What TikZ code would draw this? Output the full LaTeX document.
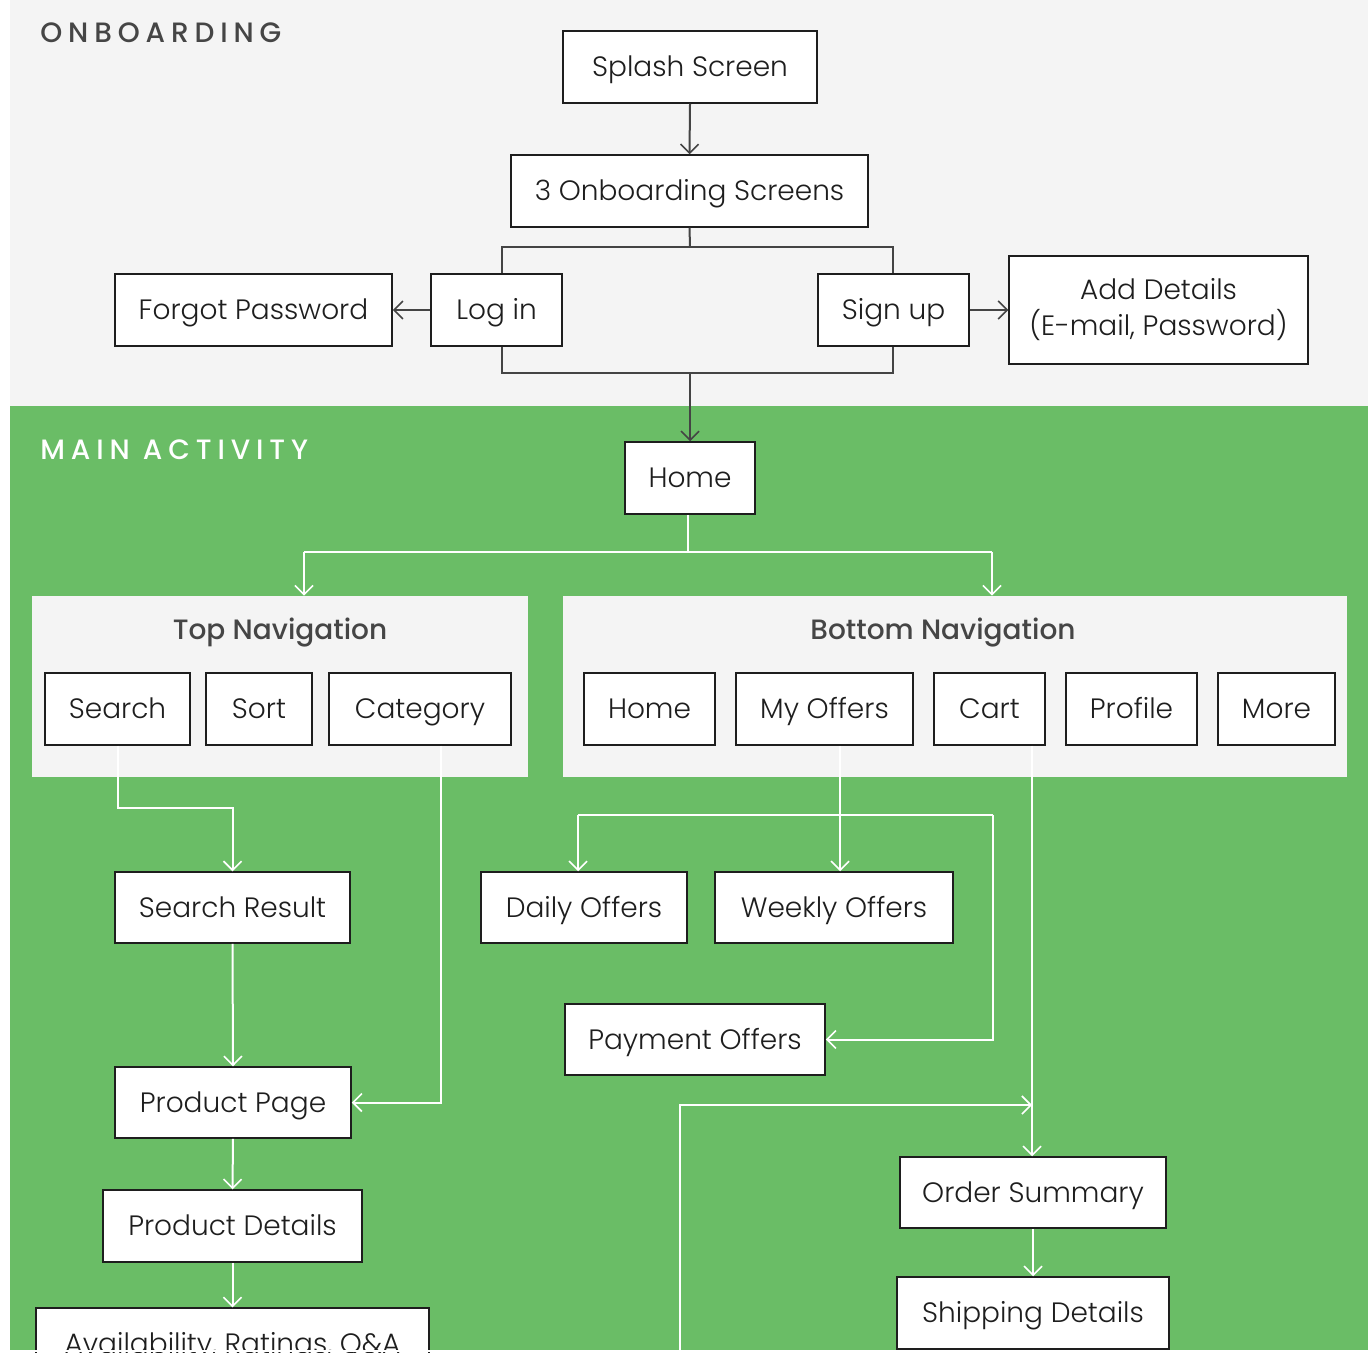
\documentclass[tikz,border=0pt]{standalone}
\usepackage{fontspec}
\setmainfont{Poppins}[UprightFont=* Light, BoldFont=* Medium]
\newfontfamily\titlefont{Poppins}[UprightFont=* Medium, LetterSpace=21]
\newfontfamily\panelfont{Poppins}[UprightFont=* Medium]
\usetikzlibrary{arrows.meta,calc}
\definecolor{obg}{HTML}{F4F4F4}
\definecolor{gbg}{HTML}{6ABD66}
\definecolor{dline}{HTML}{444444}
\definecolor{txt}{HTML}{1E1E1E}
\definecolor{ptxt}{HTML}{454545}
\tikzset{
  box/.style={draw=txt, line width=0.75pt, fill=white, text=txt, inner sep=0pt, align=center, text height=9.8pt, text depth=0pt, font=\fontsize{14}{17}\selectfont},
  panel/.style={fill=obg, draw=none, inner sep=0pt},
  darr/.style={draw=dline, line width=1pt, -{Straight Barb[length=4.5pt,width=9pt,line width=0.8pt]}},
  dln/.style={draw=dline, line width=1pt},
  warr/.style={draw=white, line width=1pt, -{Straight Barb[length=4.5pt,width=9pt,line width=0.8pt]}},
  wln/.style={draw=white, line width=1pt},
}
\begin{document}
\begin{tikzpicture}[x=0.5pt,y=-0.5pt]
\useasboundingbox (0,0) rectangle (1368,1352);
\clip (0,0) rectangle (1368,1352);
\fill[white] (0,0) rectangle (1368,1352);
\fill[obg] (10,0) rectangle (1368,406);
\fill[gbg] (10,406) rectangle (1368,1350);

\node[anchor=west, text=ptxt, font=\titlefont\fontsize{14}{17}\selectfont, inner sep=0pt, text height=9.8pt, text depth=0pt] (tonb) at (40,33) {ONBOARDING};
\node[anchor=west, text=white, font=\titlefont\fontsize{14}{17}\selectfont, inner sep=0pt, text height=9.8pt, text depth=0pt] (tmain) at (40,450) {MAIN ACTIVITY};

% onboarding nodes
\node[box, minimum width=127pt, minimum height=36pt] (splash) at (690,67) {Splash Screen};
\node[box, minimum width=178.5pt, minimum height=36pt] (onb) at (689.5,191) {3 Onboarding Screens};
\node[box, minimum width=138.5pt, minimum height=36pt] (forgot) at (253.5,310) {Forgot Password};
\node[box, minimum width=65.5pt, minimum height=36pt] (login) at (496.5,310) {Log in};
\node[box, minimum width=75.5pt, minimum height=36pt] (signup) at (893.5,310) {Sign up};
\node[box, minimum width=149.5pt, minimum height=54pt, text height=, text depth=, font=\fontsize{14}{18}\selectfont] (add) at (1158.5,310) {Add Details\\(E-mail, Password)};

\coordinate (jm) at (690,247);
\coordinate (jl) at (502,247);
\coordinate (jr) at (893,247);
\coordinate (bl) at (502,373);
\coordinate (br) at (893,373);
\coordinate (bm) at (690,373);

\draw[darr] (splash.south) -- (onb.north);
\draw[dln] (onb.south) -- (jm);
\draw[dln] (login.north -| jl) -- (jl) -- (jr) -- (signup.north -| jr);
\draw[dln] (login.south -| bl) -- (bl) -- (br) -- (signup.south -| br);
\draw[darr] (login.west) -- (forgot.east);
\draw[darr] (signup.east) -- (add.west);

% main activity
\node[box, minimum width=65pt, minimum height=36pt] (home) at (690,478) {Home};
\draw[darr] (bm) -- (home.north);

\node[panel, minimum width=248pt, minimum height=90.5pt] (tp) at (280,686.5) {};
\node[panel, minimum width=392pt, minimum height=90.5pt] (bp) at (955,686.5) {};
\node[text=ptxt, font=\panelfont\fontsize{14}{17}\selectfont, inner sep=0pt, text height=9.8pt, text depth=0pt] (tpl) at (280,630) {Top Navigation};
\node[text=ptxt, font=\panelfont\fontsize{14}{17}\selectfont, inner sep=0pt, text height=9.8pt, text depth=0pt] (bpl) at (943,630) {Bottom Navigation};

\coordinate (hm) at (688,552);
\coordinate (hl) at (304,552);
\coordinate (hr) at (992,552);
\draw[wln] (home.south -| hm) -- (hm);
\draw[wln] (hl) -- (hr);
\draw[warr] (hl) -- (tp.north -| hl);
\draw[warr] (hr) -- (bp.north -| hr);

\node[box, minimum width=72.5pt, minimum height=36pt] (search) at (117.5,709) {Search};
\node[box, minimum width=53pt, minimum height=36pt] (sort) at (259,709) {Sort};
\node[box, minimum width=91pt, minimum height=36pt] (category) at (420,709) {Category};
\node[box, minimum width=65.5pt, minimum height=36pt] (home2) at (649.5,709) {Home};
\node[box, minimum width=88.5pt, minimum height=36pt] (myoffers) at (824.5,709) {My Offers};
\node[box, minimum width=55.5pt, minimum height=36pt] (cart) at (989.5,709) {Cart};
\node[box, minimum width=65.5pt, minimum height=36pt] (profile) at (1131.5,709) {Profile};
\node[box, minimum width=58.5pt, minimum height=36pt] (more) at (1276.5,709) {More};

\node[box, minimum width=117.5pt, minimum height=35.5pt] (searchres) at (232.5,907.5) {Search Result};
\node[box, minimum width=103pt, minimum height=35.5pt] (daily) at (584,907.5) {Daily Offers};
\node[box, minimum width=119pt, minimum height=35.5pt] (weekly) at (834,907.5) {Weekly Offers};
\node[box, minimum width=130pt, minimum height=35.5pt] (payment) at (695,1039.5) {Payment Offers};
\node[box, minimum width=118pt, minimum height=35.5pt] (product) at (233,1102.5) {Product Page};
\node[box, minimum width=129.5pt, minimum height=36pt] (details) at (232.5,1226) {Product Details};
\node[box, minimum width=196.5pt, minimum height=36pt] (avail) at (232.5,1344) {Availability, Ratings, Q\&A};
\node[box, minimum width=133pt, minimum height=35.5pt] (order) at (1033,1192.5) {Order Summary};
\node[box, minimum width=136pt, minimum height=36pt] (shipping) at (1033,1313) {Shipping Details};

% top navigation connectors
\draw[warr] (search.south) -- ++(0,62) -| (searchres.north);
\coordinate (catx) at (441,0);
\draw[warr] (category.south -| catx) |- (product.east);
\draw[warr] (searchres.south) -- (product.north);
\draw[warr] (product.south) -- (details.north);
\draw[warr] (details.south) -- (avail.north);

% bottom navigation connectors
\coordinate (mox) at (840,0);
\coordinate (ol) at (578,815);
\coordinate (orr) at (993,815);
\draw[warr] (myoffers.south -| mox) -- (weekly.north -| mox);
\draw[wln] (ol) -- (orr);
\draw[warr] (ol) -- (daily.north -| ol);
\draw[warr] (orr) |- (payment.east);

\coordinate (ctx) at (1032,0);
\draw[warr] (cart.south -| ctx) -- (order.north -| ctx);
\draw[warr] (order.south) -- (shipping.north);
\coordinate (shend) at (1033,1360);
\draw[wln] (shipping.south) -- (shend);

\coordinate (lp0) at (680,1360);
\coordinate (lp1) at (1032,1105);
\draw[warr] (lp0) |- (lp1);

\fill[white] (0,1350) rectangle (1368,1352);
\end{tikzpicture}
\end{document}
